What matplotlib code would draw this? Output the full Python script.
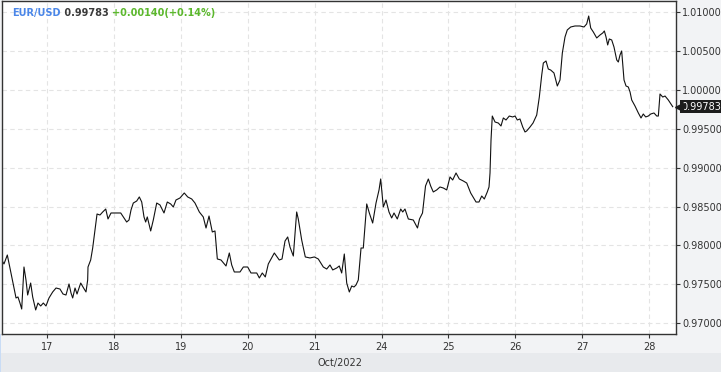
import matplotlib
matplotlib.use("Agg")
import matplotlib.pyplot as plt
import matplotlib.transforms as mtransforms
from matplotlib.patches import Rectangle

# EUR/USD, position in trading days (0 = 17 Oct 00:00), price
days = [-0.677, -0.643, -0.593, -0.553, -0.508, -0.463, -0.434, -0.404, -0.378, -0.344,
        -0.314, -0.289, -0.244, -0.214, -0.169, -0.135, -0.094, -0.055, -0.015, 0.030,
        0.085, 0.135, 0.194, 0.239, 0.284, 0.329, 0.359, 0.384, 0.419, 0.449,
        0.504, 0.538, 0.583, 0.608, 0.613, 0.653, 0.683, 0.718, 0.748, 0.792,
        0.833, 0.878, 0.912, 0.957, 1.017, 1.102, 1.151, 1.191, 1.226, 1.256,
        1.290, 1.341, 1.380, 1.416, 1.450, 1.475, 1.499, 1.550, 1.589, 1.640,
        1.689, 1.749, 1.798, 1.849, 1.888, 1.928, 1.988, 2.052, 2.103, 2.163,
        2.212, 2.277, 2.336, 2.377, 2.422, 2.471, 2.511, 2.546, 2.601, 2.676,
        2.725, 2.761, 2.800, 2.885, 2.935, 3.000, 3.049, 3.135, 3.174, 3.218,
        3.263, 3.308, 3.398, 3.472, 3.513, 3.558, 3.598, 3.632, 3.682, 3.732,
        3.756, 3.807, 3.861, 3.931, 3.996, 4.055, 4.130, 4.181, 4.230, 4.271,
        4.330, 4.369, 4.405, 4.444, 4.480, 4.519, 4.555, 4.589, 4.619, 4.653,
        4.694, 4.728, 4.779, 4.818, 4.868, 4.918, 4.963, 4.988, 5.027, 5.067,
        5.112, 5.152, 5.187, 5.236, 5.287, 5.317, 5.351, 5.401, 5.475, 5.538,
        5.568, 5.613, 5.658, 5.700, 5.735, 5.774, 5.825, 5.874, 5.924, 5.975,
        6.024, 6.064, 6.114, 6.163, 6.223, 6.274, 6.333, 6.413, 6.457, 6.498,
        6.537, 6.581, 6.607, 6.622, 6.637, 6.656, 6.697, 6.746, 6.786, 6.821,
        6.861, 6.910, 6.961, 6.996, 7.030, 7.070, 7.111, 7.145, 7.170, 7.220,
        7.265, 7.320, 7.359, 7.395, 7.419, 7.459, 7.493, 7.529, 7.578, 7.628,
        7.668, 7.703, 7.743, 7.777, 7.828, 7.892, 7.967, 8.027, 8.067, 8.097,
        8.127, 8.166, 8.217, 8.266, 8.307, 8.331, 8.356, 8.381, 8.405, 8.441,
        8.475, 8.516, 8.540, 8.565, 8.590, 8.625, 8.655, 8.689, 8.715, 8.740,
        8.789, 8.839, 8.879, 8.913, 8.949, 8.988, 9.024, 9.073, 9.114, 9.138,
        9.163, 9.204, 9.238, 9.287, 9.353]
price = [0.97813, 0.97762, 0.97877, 0.97710, 0.97517, 0.97325, 0.97338, 0.97260, 0.97183, 0.97723,
         0.97556, 0.97363, 0.97517, 0.97338, 0.97171, 0.97260, 0.97222, 0.97260, 0.97222, 0.97325,
         0.97402, 0.97453, 0.97440, 0.97376, 0.97363, 0.97505, 0.97389, 0.97325, 0.97453, 0.97376,
         0.97517, 0.97466, 0.97402, 0.97556, 0.97723, 0.97813, 0.97967, 0.98199, 0.98404, 0.98391,
         0.98430, 0.98468, 0.98340, 0.98417, 0.98417, 0.98417, 0.98353, 0.98301, 0.98327, 0.98456,
         0.98545, 0.98571, 0.98623, 0.98558, 0.98366, 0.98301, 0.98366, 0.98186, 0.98327, 0.98545,
         0.98520, 0.98417, 0.98558, 0.98533, 0.98494, 0.98584, 0.98610, 0.98674, 0.98623, 0.98597,
         0.98545, 0.98430, 0.98366, 0.98224, 0.98378, 0.98173, 0.98186, 0.97826, 0.97813, 0.97736,
         0.97903, 0.97749, 0.97659, 0.97659, 0.97723, 0.97723, 0.97646, 0.97646, 0.97582, 0.97646,
         0.97595, 0.97762, 0.97903, 0.97813, 0.97826, 0.98057, 0.98109, 0.97980, 0.97864, 0.98430,
         0.98340, 0.98070, 0.97852, 0.97839, 0.97852, 0.97826, 0.97723, 0.97697, 0.97749, 0.97685,
         0.97710, 0.97736, 0.97646, 0.97890, 0.97517, 0.97402, 0.97479, 0.97466, 0.97492, 0.97556,
         0.97967, 0.97967, 0.98533, 0.98417, 0.98288, 0.98545, 0.98713, 0.98854, 0.98494, 0.98584,
         0.98430, 0.98353, 0.98417, 0.98340, 0.98468, 0.98430, 0.98468, 0.98340, 0.98327, 0.98224,
         0.98340, 0.98417, 0.98764, 0.98854, 0.98764, 0.98687, 0.98713, 0.98751, 0.98738, 0.98713,
         0.98880, 0.98841, 0.98931, 0.98854, 0.98828, 0.98802, 0.98674, 0.98558, 0.98558, 0.98635,
         0.98597, 0.98687, 0.98751, 0.98931, 0.99355, 0.99663, 0.99586, 0.99573, 0.99535, 0.99638,
         0.99612, 0.99663, 0.99651, 0.99663, 0.99612, 0.99625, 0.99522, 0.99458, 0.99471, 0.99522,
         0.99573, 0.99676, 0.99907, 1.00190, 1.00344, 1.00370, 1.00267, 1.00254, 1.00216, 1.00049,
         1.00126, 1.00473, 1.00679, 1.00769, 1.00807, 1.00820, 1.00820, 1.00807, 1.00846, 1.00948,
         1.00794, 1.00743, 1.00666, 1.00704, 1.00730, 1.00756, 1.00679, 1.00576, 1.00653, 1.00640,
         1.00550, 1.00383, 1.00357, 1.00447, 1.00499, 1.00126, 1.00049, 1.00036, 0.99972, 0.99869,
         0.99792, 0.99702, 0.99638, 0.99689, 0.99651, 0.99663, 0.99689, 0.99702, 0.99663, 0.99663,
         0.99946, 0.99907, 0.99920, 0.99869, 0.99783]

day_labels = ['17', '18', '19', '20', '21', '24', '25', '26', '27', '28']
y_ticks = [0.970, 0.975, 0.980, 0.985, 0.990, 0.995, 1.000, 1.005, 1.010]
last_price = 0.99783
change = '+0.00140(+0.14%)'

fig = plt.figure(figsize=(7.21, 3.72), dpi=100, facecolor='#f2f3f5')
fig.patches.append(Rectangle((0, 0), 1, 19 / 372, transform=fig.transFigure,
                             facecolor='#e8eaed', edgecolor='none', zorder=0))
fig.patches.append(Rectangle((0, 0), 1.2 / 721, 38 / 372, transform=fig.transFigure,
                             facecolor='#c9dcf5', edgecolor='none', zorder=0))

ax = fig.add_axes([1.5 / 721, 38 / 372, 674.5 / 721, 333 / 372])
ax.set_facecolor('white')

ax.plot(days, price, color='#111111', lw=0.8)

ax.set_xlim(-0.680, 9.402)
ax.set_ylim(0.96862, 1.01141)
ax.set_xticks(range(len(day_labels)))
ax.set_xticklabels(day_labels)
ax.set_yticks(y_ticks)
ax.set_yticklabels(['%.5f' % v for v in y_ticks])
ax.yaxis.tick_right()
ax.tick_params(axis='both', direction='out', length=3, width=0.8, color='#333333',
               labelcolor='#333333', labelsize=7, pad=1.5)
ax.tick_params(axis='x', pad=3)

ax.grid(True, color='#e4e4e4', lw=0.8, linestyle=(0, (4, 3)))
ax.set_axisbelow(True)
for s in ax.spines.values():
    s.set_color('#333333')
    s.set_linewidth(1.0)

# header
t1 = ax.text(11 / 674.5, 1 - 12 / 333, 'EUR/USD', transform=ax.transAxes, fontsize=7,
             fontweight='bold', color='#4a86e8', va='center', ha='left')
t2 = ax.annotate(' %.5f ' % last_price, xy=(1, 0), xycoords=t1, fontsize=7,
                 fontweight='bold', color='#3a3a3a', va='bottom', ha='left')
ax.annotate(change, xy=(1, 0), xycoords=t2, fontsize=7, fontweight='bold',
            color='#5cb82d', va='bottom', ha='left')

# last price tag
trans = mtransforms.blended_transform_factory(ax.transAxes, ax.transData)
ax.plot([1.0], [last_price], marker='<', markersize=6, color='#1c1c1c',
        transform=mtransforms.offset_copy(trans, fig=fig, x=2.5, y=0, units='dots'),
        clip_on=False, zorder=5)
ax.annotate('%.5f' % last_price, xy=(1.0, last_price), xycoords=trans,
            xytext=(4, 0), textcoords='offset points', fontsize=7, color='white',
            va='center', ha='left', annotation_clip=False,
            bbox=dict(boxstyle='square,pad=0.15', facecolor='#1c1c1c', edgecolor='none'))

fig.text(340 / 721, 9 / 372, 'Oct/2022', fontsize=7, color='#333333',
         ha='center', va='center')

fig.savefig('out.png', dpi=100, facecolor=fig.get_facecolor())
